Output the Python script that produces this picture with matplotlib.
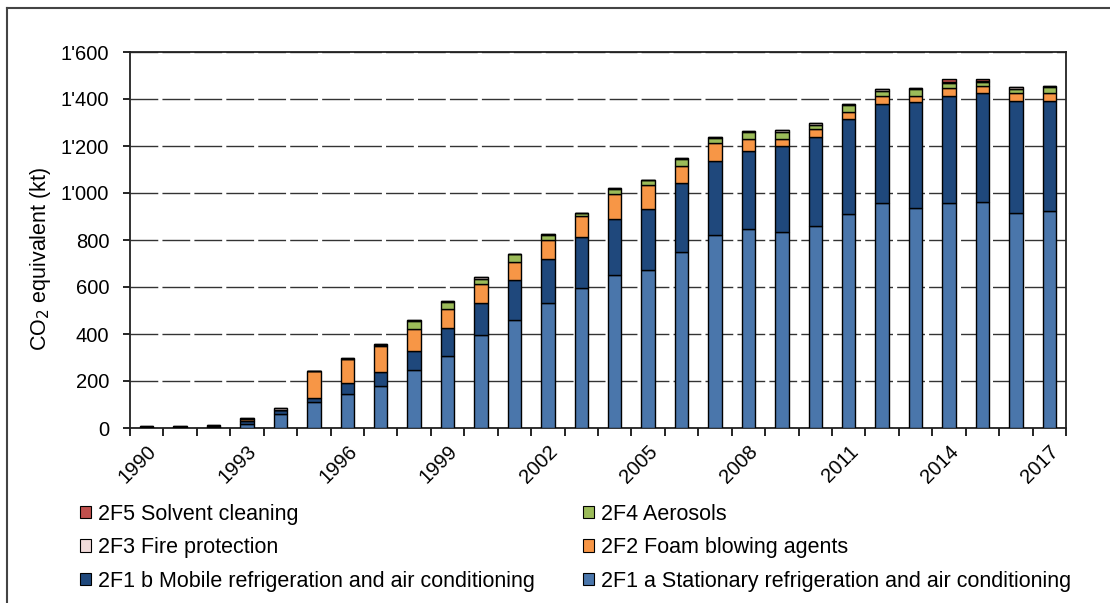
import numpy as np
import matplotlib
matplotlib.use("Agg")
from matplotlib import pyplot as plt
from matplotlib.patches import Patch
from matplotlib.lines import Line2D
from matplotlib.ticker import FuncFormatter, FixedLocator

plt.rc("font", family=["Liberation Sans", "DejaVu Sans"])

years = list(range(1990, 2018))

# CO2 equivalent (kt)
stationary = [2, 2, 4, 18, 61, 111, 143, 177, 247, 308, 397, 458, 532, 596,
              651, 672, 751, 821, 847, 834, 861, 909, 957, 936, 957, 963, 917, 923]
mobile = [3, 3, 5, 12, 14, 18, 50, 63, 79, 116, 136, 170, 186, 215,
          238, 258, 290, 316, 332, 365, 379, 407, 422, 450, 454, 463, 474, 468]
foam = [0, 0, 1, 9, 2, 112, 102, 109, 95, 81, 80, 77, 81, 90,
        108, 103, 75, 74, 52, 32, 33, 28, 32, 28, 35, 28, 36, 36]
aerosols = [0, 0, 0, 0, 1, 0, 0, 3, 35, 30, 23, 34, 24, 13,
            22, 21, 27, 22, 30, 30, 17, 31, 23, 28, 24, 18, 17, 22]
fire = [2, 2, 3, 3, 5, 1, 1, 5, 2, 6, 6, 2, 2, 3,
        3, 3, 4, 4, 4, 8, 7, 5, 7, 5, 4, 3, 5, 5]
solvent = [0, 0, 0, 0, 0, 0, 0, 0, 0, 0, 0, 0, 0, 0,
           0, 0, 0, 0, 0, 0, 0, 0, 0, 0, 9, 8, 0, 0]

series = [
    ("2F1 a Stationary refrigeration and air conditioning", stationary, "#4a76ab"),
    ("2F1 b Mobile refrigeration and air conditioning", mobile, "#1f487c"),
    ("2F2 Foam blowing agents", foam, "#f79646"),
    ("2F3 Fire protection", fire, "#f2dcdb"),
    ("2F4 Aerosols", aerosols, "#9bbb59"),
    ("2F5 Solvent cleaning", solvent, "#c0504d"),
]
# stacking order bottom-up: stationary, mobile, foam, aerosols, fire, solvent
stack_order = [0, 1, 2, 4, 3, 5]

fig = plt.figure(figsize=(11.1, 6.03), dpi=100)
ax = fig.add_axes([130 / 1110, 1 - 428 / 603, 936 / 1110, 376 / 603])

x = np.arange(len(years))
bottom = np.zeros(len(years))
for i in stack_order:
    label, vals, col = series[i]
    vals = np.array(vals, dtype=float)
    ax.bar(x, vals, 0.4, bottom=bottom, color=col, edgecolor="black",
           linewidth=1.0, zorder=3)
    bottom += vals

ax.set_xlim(-0.5, len(years) - 0.5)
ax.set_ylim(0, 1600)
ax.set_yticks(np.arange(0, 1601, 200))
ax.yaxis.set_major_formatter(FuncFormatter(lambda v, p: f"{int(v):,}".replace(",", "'")))
ax.grid(axis="y", color="#333333", linewidth=1.0, linestyle=(0, (20, 3)), zorder=0)

lab_pos = x[::3]
ax.set_xticks(lab_pos)
ax.set_xticklabels([str(years[i]) for i in lab_pos], rotation=45, ha="right",
                   rotation_mode="anchor")
ax.xaxis.set_minor_locator(FixedLocator(np.arange(-0.5, len(years), 1)))
ax.tick_params(axis="x", which="major", length=0, pad=10, labelsize=14.5)
ax.tick_params(axis="x", which="minor", length=6, width=1.2, direction="out")
ax.tick_params(axis="y", length=5, width=1.2, pad=10, labelsize=14.5)

for s in ax.spines.values():
    s.set_linewidth(1.3)
    s.set_color("#222222")

ax.set_ylabel("CO$_2$ equivalent (kt)", fontsize=15.5)
ax.yaxis.set_label_coords(-0.082, 0.45)

# legend (column-first fill)
leg_order = [5, 3, 1, 4, 2, 0]
handles = [Patch(facecolor=series[i][2], edgecolor="black", linewidth=0.8) for i in leg_order]
labels = [series[i][0] for i in leg_order]
fig.legend(handles, labels, ncol=2, loc="upper left",
           bbox_to_anchor=(80 / 1110, 1 - 504 / 603), frameon=False,
           fontsize=15.5, handlelength=0.5, handleheight=0.5, handletextpad=0.32,
           columnspacing=2.25, labelspacing=0.57, borderpad=0, borderaxespad=0)

# outer frame of the figure
fig.add_artist(Line2D([7 / 1110, 1], [1 - 8 / 603] * 2, color="#444444", linewidth=1.5))
fig.add_artist(Line2D([7 / 1110] * 2, [0, 1 - 8 / 603], color="#444444", linewidth=1.5))

fig.savefig("out.png", dpi=100)
